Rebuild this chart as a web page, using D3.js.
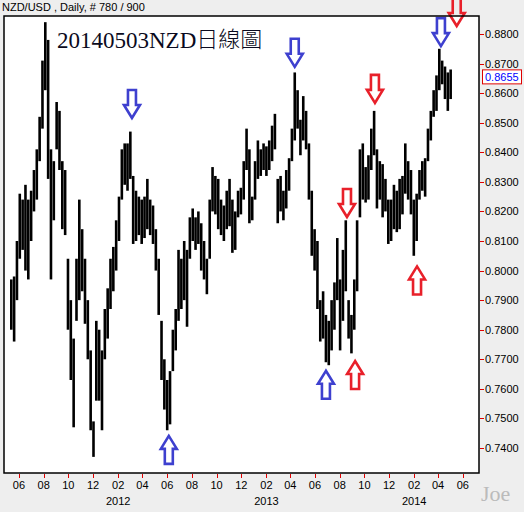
<!DOCTYPE html>
<html>
<head>
<meta charset="utf-8">
<script src="https://cdn.jsdelivr.net/npm/d3@7"></script>
<style>
  html, body { margin: 0; padding: 0; background: #eeeeee; }
  svg { display: block; }
</style>
</head>
<body>
<div id="chart"></div>
<script>
// weekly bars, first week ending 2011-05-13, last 2014-05-02
const firstWeek = new Date(2011, 4, 13);
const weekHigh = [
  .797, .798, .810, .826, .824, .829, .824, .827, .834, .841,
  .852, .871, .884, .878, .841, .837, .857, .854, .837, .834,
  .804, .790, .777, .804, .824, .814, .804, .790, .773, .749,
  .783, .780, .773, .787, .794, .804, .808, .817, .825, .841,
  .843, .843, .847, .832, .827, .825, .824, .825, .831, .824,
  .822, .814, .804, .783, .770, .763, .766, .780, .787, .807,
  .804, .810, .807, .818, .821, .818, .820, .816, .810, .804,
  .824, .835, .832, .831, .824, .822, .827, .831, .824, .820,
  .827, .828, .837, .848, .841, .825, .837, .844, .841, .843,
  .842, .844, .849, .853, .831, .832, .827, .834, .838, .848,
  .867, .861, .851, .859, .854, .843, .827, .814, .810, .790,
  .793, .785, .783, .790, .796, .811, .797, .807, .817, .790,
  .785, .797, .817, .841, .843, .835, .839, .848, .854, .841,
  .837, .836, .831, .824, .824, .829, .827, .831, .832, .843,
  .837, .834, .824, .826, .834, .837, .838, .848, .854, .861,
  .866, .875, .871, .869, .867, .868
];
const weekLow = [
  .780, .776, .790, .804, .807, .800, .797, .810, .820, .824,
  .837, .848, .861, .831, .797, .817, .841, .834, .814, .812,
  .780, .763, .747, .783, .790, .793, .782, .770, .746, .737,
  .756, .756, .746, .770, .777, .787, .793, .800, .810, .824,
  .829, .827, .831, .809, .810, .812, .809, .811, .814, .812,
  .809, .800, .785, .763, .753, .746, .748, .766, .773, .783,
  .787, .790, .781, .804, .810, .807, .809, .800, .797, .792,
  .804, .820, .819, .814, .812, .810, .814, .815, .806, .807,
  .818, .819, .824, .834, .816, .817, .824, .831, .832, .834,
  .832, .834, .837, .841, .816, .820, .817, .821, .827, .837,
  .844, .848, .839, .844, .841, .824, .805, .800, .787, .776,
  .777, .769, .768, .773, .780, .790, .773, .783, .793, .777,
  .772, .780, .793, .818, .824, .823, .824, .834, .839, .821,
  .824, .818, .820, .809, .810, .814, .813, .814, .819, .826,
  .824, .819, .805, .810, .824, .827, .825, .837, .844, .852,
  .854, .861, .863, .858, .854, .858
];
const lastPrice = 0.8655;

const priceTicks = d3.range(0.74, 0.8801, 0.01);

// turning-point arrows: tip date, tip price, direction, colour
const arrowDates = ["2012-03-06", "2013-04-12", "2014-04-08", "2012-06-05", "2013-06-28",
  "2013-10-27", "2013-08-19", "2014-05-17", "2013-09-08", "2014-02-08"];
const arrowPrices = [0.8516, 0.8689, 0.8759, 0.7441, 0.7661, 0.8567, 0.8181, 0.8827, 0.7694, 0.8014];
const arrowDirs = ["down", "down", "down", "up", "up", "down", "down", "down", "up", "up"];
const arrowColors = ["blue", "blue", "blue", "blue", "blue", "red", "red", "red", "red", "red"];

const width = 524, height = 512;
const plot = { left: 4, top: 16, right: 479, bottom: 473 };

const svg = d3.select("#chart").append("svg")
  .attr("width", width)
  .attr("height", height);

svg.append("rect").attr("width", width).attr("height", height).attr("fill", "#eeeeee");

const x = d3.scaleTime()
  .domain([new Date(2011, 3, 25), new Date(2014, 6, 11)])
  .range([plot.left, plot.right]);
const y = d3.scaleLinear()
  .domain([0.74, 0.88])
  .range([448, 34]);

svg.append("rect")
  .attr("x", plot.left).attr("y", plot.top)
  .attr("width", plot.right - plot.left).attr("height", plot.bottom - plot.top)
  .attr("fill", "#fff");

const weeks = weekHigh.map((h, i) => ({
  date: d3.timeDay.offset(firstWeek, i * 7),
  high: h,
  low: weekLow[i]
}));

svg.append("g")
  .selectAll("line")
  .data(weeks)
  .join("line")
  .attr("x1", (d) => x(d.date)).attr("x2", (d) => x(d.date))
  .attr("y1", (d) => y(d.high)).attr("y2", (d) => y(d.low))
  .attr("stroke", "#000")
  .attr("stroke-width", 2.6);

// arrows
const arrowShape = "M0,0 L-8,-13 L-4,-13 L-4,-28 L4,-28 L4,-13 L8,-13 Z";
const arrows = arrowDates.map((d, i) => ({
  date: d3.timeParse("%Y-%m-%d")(d),
  price: arrowPrices[i],
  dir: arrowDirs[i],
  color: arrowColors[i] === "blue" ? "#3e40cf" : "#e8202a"
}));

svg.append("g")
  .selectAll("path")
  .data(arrows)
  .join("path")
  .attr("d", arrowShape)
  .attr("transform", (d) => `translate(${x(d.date)},${y(d.price)})` + (d.dir === "up" ? " scale(1,-1)" : ""))
  .attr("fill", "none")
  .attr("stroke", (d) => d.color)
  .attr("stroke-width", 2.6)
  .attr("stroke-linejoin", "miter");

// frame
svg.append("rect")
  .attr("x", plot.left).attr("y", plot.top)
  .attr("width", plot.right - plot.left).attr("height", plot.bottom - plot.top)
  .attr("fill", "none")
  .attr("stroke", "#000")
  .attr("stroke-width", 1.5);

// right price axis
const yAxis = svg.append("g").attr("font-family", "Liberation Sans, Arial, sans-serif").attr("font-size", 11);
yAxis.selectAll("line")
  .data(priceTicks)
  .join("line")
  .attr("x1", plot.right + 1).attr("x2", plot.right + 5)
  .attr("y1", (d) => Math.round(y(d)) + 0.5).attr("y2", (d) => Math.round(y(d)) + 0.5)
  .attr("stroke", "#e00000");
yAxis.selectAll("text")
  .data(priceTicks)
  .join("text")
  .attr("x", plot.right + 6)
  .attr("y", (d) => y(d) + 4)
  .attr("fill", "#000")
  .text(d3.format(".4f"));

// last price box
svg.append("rect")
  .attr("x", 482.5).attr("y", y(lastPrice) - 7)
  .attr("width", 39).attr("height", 14)
  .attr("fill", "#fff")
  .attr("stroke", "#e00000");
svg.append("text")
  .attr("x", 485).attr("y", y(lastPrice) + 4)
  .attr("font-family", "Liberation Sans, Arial, sans-serif")
  .attr("font-size", 11)
  .attr("fill", "#0000ff")
  .text(d3.format(".4f")(lastPrice));

// bottom time axis
const monthTicks = d3.timeMonth.range(x.domain()[0], x.domain()[1]).filter((d) => d.getMonth() % 2 === 1);
const xAxis = svg.append("g").attr("font-family", "Liberation Sans, Arial, sans-serif").attr("font-size", 11);
xAxis.selectAll("line")
  .data(monthTicks)
  .join("line")
  .attr("x1", (d) => Math.round(x(d)) + 0.5).attr("x2", (d) => Math.round(x(d)) + 0.5)
  .attr("y1", plot.bottom + 1).attr("y2", plot.bottom + 5)
  .attr("stroke", "#e00000");
xAxis.selectAll("text.m")
  .data(monthTicks)
  .join("text")
  .attr("class", "m")
  .attr("x", (d) => x(d))
  .attr("y", 489)
  .attr("text-anchor", "middle")
  .text(d3.timeFormat("%m"));
xAxis.selectAll("text.yr")
  .data(monthTicks.filter((d) => d.getMonth() === 1))
  .join("text")
  .attr("class", "yr")
  .attr("x", (d) => x(d))
  .attr("y", 505)
  .attr("text-anchor", "middle")
  .text(d3.timeFormat("%Y"));

// header and title
svg.append("text")
  .attr("x", 2).attr("y", 11)
  .attr("font-family", "Liberation Sans, Arial, sans-serif")
  .attr("font-size", 11)
  .text("NZD/USD , Daily, # 780 / 900");

const title = svg.append("text")
  .attr("x", 57).attr("y", 48)
  .attr("fill", "#0a0a20");
title.append("tspan")
  .attr("font-family", "Liberation Serif, Times New Roman, serif")
  .attr("font-size", 23)
  .text("20140503NZD");
title.append("tspan")
  .attr("font-family", "Noto Sans CJK TC, sans-serif")
  .attr("font-size", 22)
  .attr("font-weight", 300)
  .attr("dy", -1)
  .text("日線圖");

svg.append("text")
  .attr("x", 481).attr("y", 501)
  .attr("font-family", "Liberation Serif, Times New Roman, serif")
  .attr("font-size", 22)
  .attr("fill", "#bbbbbb")
  .text("Joe");
</script>
</body>
</html>
